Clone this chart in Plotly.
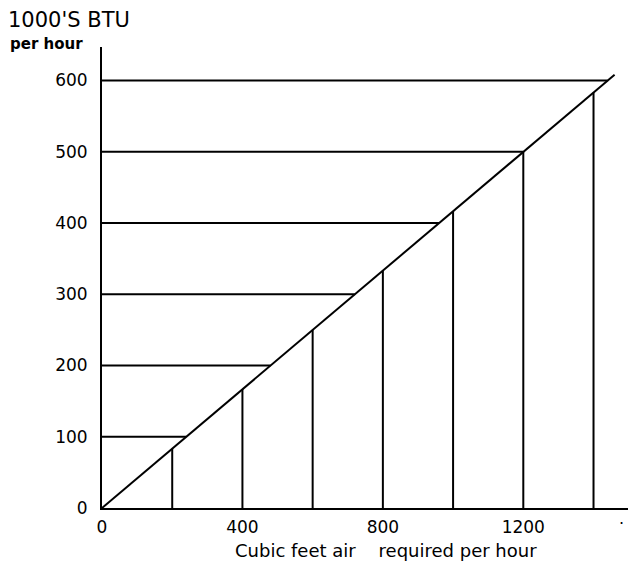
import plotly.graph_objects as go

# Data
x_tick_vals = [0, 400, 800, 1200]
y_tick_vals = [0, 100, 200, 300, 400, 500, 600]
diag_x = [0, 1460]
diag_y = [0, 608]
h_levels = [100, 200, 300, 400, 500, 600]
h_end_x = [240, 480, 720, 960, 1200, 1440]
v_pos = [200, 400, 600, 800, 1000, 1200, 1400]
v_top = [83, 167, 250, 333, 417, 500, 583]

FONT = "DejaVu Sans"
fig = go.Figure()

# horizontal guide lines
hx, hy = [], []
for lvl, xe in zip(h_levels, h_end_x):
    hx += [0, xe, None]
    hy += [lvl, lvl, None]
fig.add_trace(go.Scatter(x=hx, y=hy, mode="lines", line=dict(color="black", width=2),
                         hoverinfo="skip", showlegend=False))
# vertical guide lines
vx, vy = [], []
for xp, yt in zip(v_pos, v_top):
    vx += [xp, xp, None]
    vy += [0, yt, None]
fig.add_trace(go.Scatter(x=vx, y=vy, mode="lines", line=dict(color="black", width=2),
                         hoverinfo="skip", showlegend=False))
# diagonal relation line
fig.add_trace(go.Scatter(x=diag_x, y=diag_y, mode="lines", line=dict(color="black", width=2),
                         hoverinfo="skip", showlegend=False))

PW, PH = 534, 461  # plot area size in px
def px(xp):
    return (xp - 102) / PW
def py(yp):
    return (508 - yp) / PH

fig.update_layout(
    width=628, height=556,
    margin=dict(l=94, r=0, t=39, b=56),
    paper_bgcolor="white", plot_bgcolor="white",
    font=dict(family=FONT, color="black", size=15),
    xaxis=dict(range=[0, 1521], showgrid=False, zeroline=False, showline=True,
               linecolor="black", linewidth=2, tickvals=x_tick_vals,
               ticks="", ticklabelstandoff=3, tickfont=dict(size=17, family=FONT)),
    yaxis=dict(range=[0, 647], showgrid=False, zeroline=False, showline=True,
               linecolor="black", linewidth=2, tickvals=y_tick_vals,
               ticks="", ticklabelstandoff=9, tickfont=dict(size=17, family=FONT)),
    annotations=[
        dict(text="1000'S BTU", xref="paper", yref="paper", x=px(69), y=py(20),
             xanchor="center", yanchor="middle", showarrow=False, font=dict(size=21, family=FONT)),
        dict(text="<b>per hour</b>", xref="paper", yref="paper", x=px(46), y=py(44),
             xanchor="center", yanchor="middle", showarrow=False, font=dict(size=15, family=FONT)),
        dict(text="Cubic feet air &nbsp;&nbsp;&nbsp;required per hour", xref="paper", yref="paper",
             x=px(386), y=py(550), xanchor="center", yanchor="middle",
             showarrow=False, font=dict(size=18, family=FONT)),
        dict(text="·", xref="paper", yref="paper", x=px(621), y=py(523),
             xanchor="center", yanchor="middle", showarrow=False, font=dict(size=16, family=FONT)),
    ],
)

fig.write_html("out.html")
